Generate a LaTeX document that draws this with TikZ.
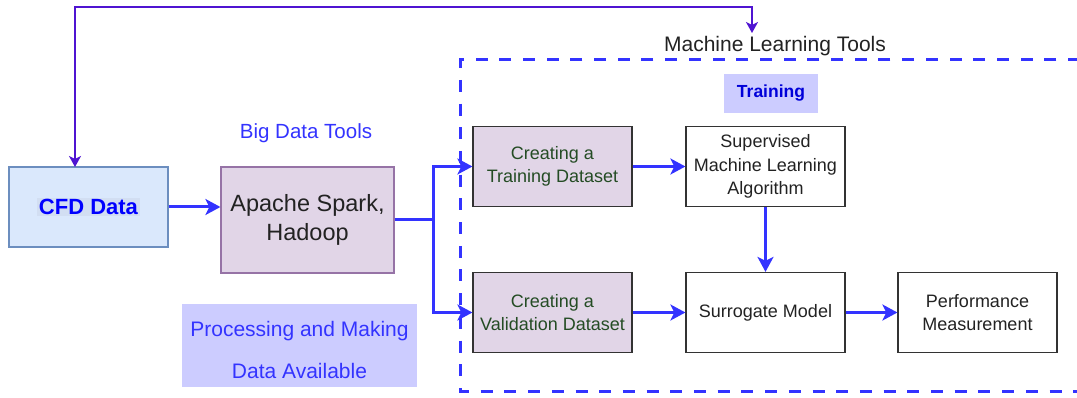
\documentclass[tikz,border=0pt]{standalone}
\usepackage{fontspec}
\setmainfont{Liberation Sans}
\usetikzlibrary{arrows.meta,calc}
\definecolor{cfdfill}{HTML}{DAE8FC}
\definecolor{cfdline}{HTML}{6C8EBF}
\definecolor{cfdhl}{HTML}{D2DEF2}
\definecolor{purfill}{HTML}{E1D5E7}
\definecolor{purline}{HTML}{9673A6}
\definecolor{flowblue}{HTML}{3333FF}
\definecolor{labelfill}{HTML}{CCCCFF}
\definecolor{fbpurple}{rgb}{0.31,0.08,0.82}
\definecolor{darkgreen}{rgb}{0.14,0.30,0.14}
\definecolor{textgray}{HTML}{222222}
\begin{document}
\begin{tikzpicture}[x=1pt,y=-1pt,
  box/.style={draw=black!80, line width=1.2pt, inner sep=0pt, align=center,
    minimum width=159pt, minimum height=80pt, text=textgray,
    font=\fontsize{18}{23.5}\selectfont},
  dsbox/.style={box, fill=purfill, text=darkgreen},
  flow/.style={draw=flowblue, line width=3pt,
    -{Stealth[length=15pt,width=16pt,inset=4pt]}},
  fb/.style={draw=fbpurple, line width=2pt,
    {Stealth[length=11pt,width=12pt,inset=3pt]}-{Stealth[length=11pt,width=12pt,inset=3pt]}},
  lbl/.style={inner sep=0pt, align=center}
]
\useasboundingbox (0,0) rectangle (1077,398);

% machine learning frame
\draw[flowblue, line width=3pt, dash pattern=on 12pt off 11.7pt] (1080,60) -| (460,391) -- (1080,391);
\node[lbl, text=textgray, font=\fontsize{21}{25}\selectfont] (mltools) at (775,46) {Machine Learning Tools};

% left part
\node[draw=cfdline, fill=cfdfill, line width=1.2pt, minimum width=159pt, minimum height=80pt, inner sep=0pt,
  font=\fontsize{22}{26}\bfseries\selectfont, text=blue] (cfd) at (88.5,207)
  {\setlength{\fboxsep}{1.5pt}\colorbox{cfdhl}{CFD Data}};
\node[draw=purline, fill=purfill, line width=1.2pt, minimum width=173pt, minimum height=106pt, inner sep=0pt,
  align=center, text=textgray, font=\fontsize{23.5}{29}\selectfont] (apache) at (307.5,220)
  {Apache Spark,\\Hadoop};
\node[lbl, text=flowblue, font=\fontsize{20.5}{25}\selectfont] (bigdata) at (306,133) {Big Data Tools};
\node[fill=labelfill, minimum width=235pt, minimum height=83pt, inner sep=0pt, align=center,
  text=flowblue, font=\fontsize{21}{42}\selectfont] (proc) at (299.5,345.5)
  {\rule{0pt}{24pt}Processing and Making\\Data Available};

% right part
\node[fill=labelfill, minimum width=94pt, minimum height=39pt, inner sep=0pt,
  text=blue!85!black, font=\fontsize{17.5}{21}\bfseries\selectfont] (training) at (771,93.5) {Training};
\node[dsbox] (ctrain) at (552.5,166.5) {Creating a\\Training Dataset};
\node[dsbox] (cval) at (552.5,312.5) {Creating a\\Validation Dataset};
\node[box] (sup) at (765.5,166.5) {Supervised\\Machine Learning\\Algorithm};
\node[box] (sur) at (765.5,312.5) {Surrogate Model};
\node[box] (perf) at (977.5,312.5) {Performance\\Measurement};

% connectors
\draw[flow] (cfd.east) -- (cfd.east -| apache.west);
\draw[flow] (apache.east) -- ++(39,0) |- (ctrain.west);
\draw[flow] (apache.east) -- ++(39,0) |- (cval.west);
\draw[flow] (ctrain) -- (sup);
\draw[flow] (sup) -- (sur);
\draw[flow] (cval) -- (sur);
\draw[flow] (sur) -- (perf);

% feedback loop
\coordinate (fbin) at (75,167);
\coordinate (fbout) at (752,33);
\draw[fb] (fbout) |- (75,7) -- (fbin);
\end{tikzpicture}
\end{document}
